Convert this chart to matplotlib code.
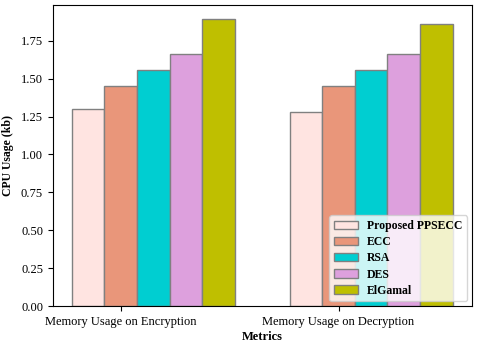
import numpy as np
import matplotlib.pyplot as plt

plt.rcParams['font.family'] = 'Liberation Serif'

metrics = ['Memory Usage on Encryption', 'Memory Usage on Decryption']
methods = ['Proposed PPSECC', 'ECC', 'RSA', 'DES', 'ElGamal']
values = {
    'Proposed PPSECC': [1.30, 1.28],
    'ECC': [1.45, 1.45],
    'RSA': [1.56, 1.56],
    'DES': [1.66, 1.66],
    'ElGamal': [1.89, 1.86],
}
colors = ['mistyrose', 'darksalmon', 'darkturquoise', 'plum', 'y']

fig, ax = plt.subplots(figsize=(4.8, 3.42), dpi=100)
fig.subplots_adjust(left=0.11, right=0.983, bottom=0.105, top=0.985)

index = np.arange(len(metrics))
bar_width = 0.15
for i, m in enumerate(methods):
    ax.bar(index + i * bar_width, values[m], bar_width, label=m,
           color=colors[i], edgecolor='grey')

ax.set_xticks(index + bar_width)
ax.set_xticklabels(metrics, fontsize=9)
ax.tick_params(axis='y', labelsize=9)
ax.set_xlabel('Metrics', fontweight='bold', fontsize=9, labelpad=2)
ax.set_ylabel('CPU Usage (kb)', fontweight='bold', fontsize=8.5, labelpad=5)
ax.legend(loc='lower right', prop={'weight': 'bold', 'size': 8.5},
          labelspacing=0.35, borderaxespad=0.4)

plt.savefig('out.png')
